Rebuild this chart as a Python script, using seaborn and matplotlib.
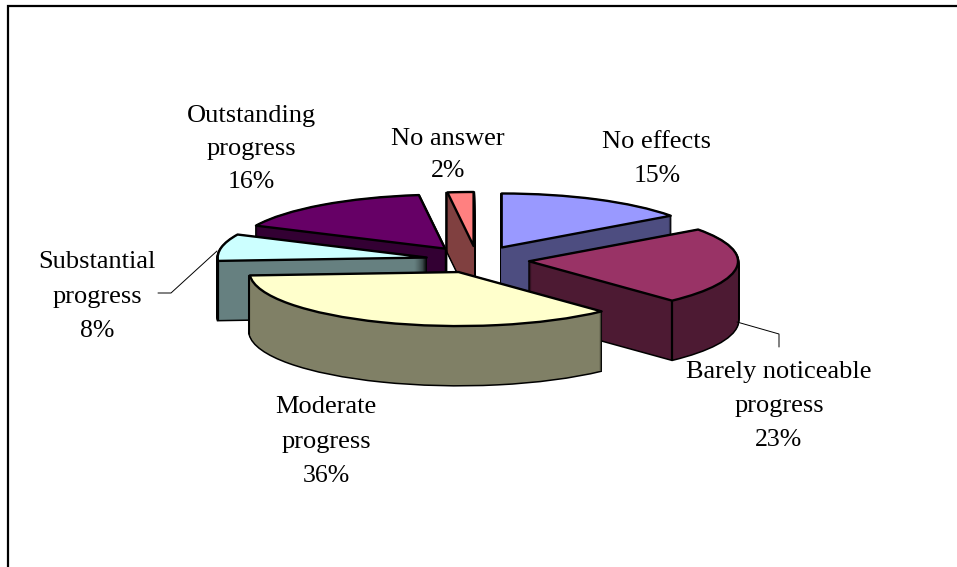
import numpy as np
import matplotlib
matplotlib.use("Agg")
import matplotlib.pyplot as plt
from matplotlib.lines import Line2D
import seaborn as sns

categories = ["No effects", "Barely noticeable\nprogress", "Moderate\nprogress",
              "Substantial\nprogress", "Outstanding\nprogress", "No answer"]
shares = [15, 23, 36, 8, 16, 2]

top_colors = ["#9999FF", "#993366", "#FFFFCC", "#CCFFFF", "#660066", "#FF8080"]
side_colors = ["#4D4D80", "#4D1A33", "#808066", "#668080", "#330033", "#804040"]

# back to front, so nearer slices cover the farther ones
draw_rank = [2, 4, 5, 3, 1, 0]

sns.set_theme(style="white")
plt.rcParams["font.family"] = ["Liberation Serif", "DejaVu Serif"]

W, H = 957, 567
cx, cy = 477, 260      # pie centre in pixels
rx, ry = 209, 54       # ellipse radii in pixels
depth_px = 59
explode = [0.26, 0.25, 0.24, 0.245, 0.26, 0.26]

fig = plt.figure(figsize=(W / 100, H / 100), dpi=100)
ax = fig.add_axes([0, 0, 1, 1])


def draw_pie(offset, wedgeprops, colors):
    wedges, _ = ax.pie(shares, explode=explode, startangle=90, counterclock=False,
                       colors=colors, center=(0, -offset), wedgeprops=wedgeprops)
    return wedges


# extrude the pie: black silhouette first, then the side colour on top of it
for px in np.arange(depth_px, 0, -1.0):
    d = px / ry
    outline = draw_pie(d, dict(edgecolor="black", linewidth=2.2), ["black"] * len(shares))
    sides = draw_pie(d, dict(edgecolor="none", linewidth=0), side_colors)
    for i in range(len(shares)):
        outline[i].set_zorder(10 * draw_rank[i] + 1)
        sides[i].set_zorder(10 * draw_rank[i] + 2)

tops = draw_pie(0, dict(edgecolor="black", linewidth=1.7, joinstyle="round"), top_colors)
for i, w in enumerate(tops):
    w.set_zorder(10 * draw_rank[i] + 5)
    # corner edges where two visible side faces meet
    for phi, wall_sign in [(w.theta1, 1), (w.theta2, -1)]:
        s, c = np.sin(np.radians(phi)), np.cos(np.radians(phi))
        if s < 0 and c * wall_sign > 0:
            x = w.center[0] + w.r * c
            y = w.center[1] + w.r * s
            ax.plot([x, x], [y, y - depth_px / ry], color="black", lw=1.6,
                    zorder=10 * draw_rank[i] + 3, solid_capstyle="round")

ax.set_aspect("auto")
ax.set_xlim(-cx / rx, (W - cx) / rx)
ax.set_ylim(-(H - cy) / ry, cy / ry)
ax.axis("off")


def px_x(x):
    return x / W


def px_y(y):
    return 1 - y / H


# outer frame: only the top and left edges are inside the picture
fig.add_artist(Line2D([px_x(8), px_x(8), px_x(W)], [0, px_y(6), px_y(6)],
                      color="black", lw=1.6, solid_joinstyle="miter"))

# leader lines
fig.add_artist(Line2D([px_x(158), px_x(171), px_x(217)], [px_y(293), px_y(293), px_y(251)],
                      color="black", lw=0.7))
fig.add_artist(Line2D([px_x(737), px_x(779), px_x(779)], [px_y(322), px_y(334), px_y(347)],
                      color="black", lw=0.7))

# label centre x and the baseline of each line in pixels
label_x = [657, 779, 326, 97, 251, 448]
label_base = [[148, 182], [378, 412, 446], [413, 448, 482],
              [268, 303, 337], [122, 155, 188], [145, 177]]
for name, share, lx, bases in zip(categories, shares, label_x, label_base):
    lines = name.split("\n")
    for line, by in zip(lines, bases):
        fig.text(px_x(lx), px_y(by), line, ha="center", va="baseline",
                 fontsize=19, color="black")
    fig.text(px_x(lx), px_y(bases[-1]), f"{share}%", ha="center", va="baseline",
             fontsize=18.5, color="black")

plt.savefig("out.png", dpi=100)
